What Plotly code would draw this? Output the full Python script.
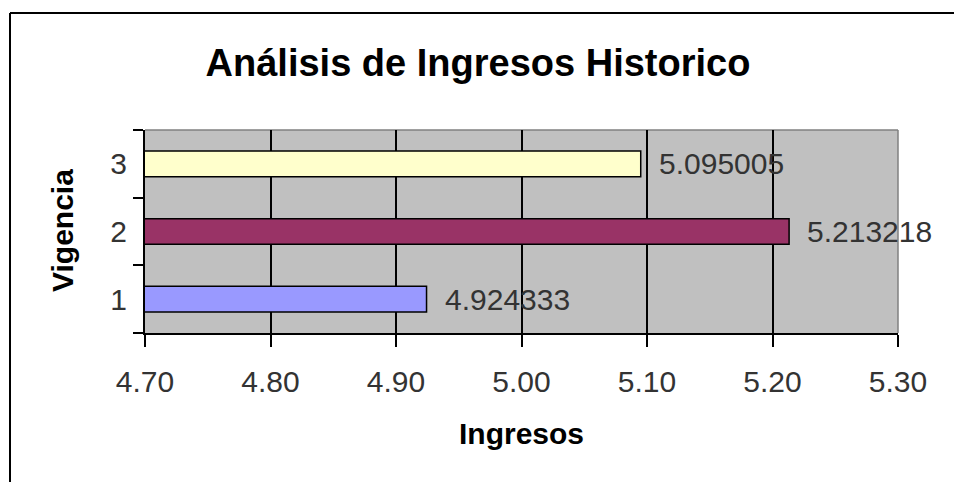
import plotly.graph_objects as go

categories = ["1", "2", "3"]
values = [4.924333, 5.213218, 5.095005]
bar_colors = ["#9999FF", "#993366", "#FFFFCC"]
x_ticks = [4.7, 4.8, 4.9, 5.0, 5.1, 5.2, 5.3]
x_tick_labels = ["4.70", "4.80", "4.90", "5.00", "5.10", "5.20", "5.30"]
title_text = "Análisis de Ingresos Historico"
x_title = "Ingresos"
y_title = "Vigencia"

FONT = "Liberation Sans, Arial, sans-serif"

fig = go.Figure()
fig.add_trace(go.Bar(
    y=categories, x=values, orientation="h",
    marker=dict(color=bar_colors, line=dict(color="#000000", width=1.5)),
    width=0.38, showlegend=False,
))

for i, (c, v) in enumerate(zip(categories, values)):
    fig.add_annotation(x=v, y=i, xref="x", yref="y", text=f"{v:.6f}",
                       showarrow=False, xanchor="left", yanchor="middle",
                       xshift=16, font=dict(family=FONT, size=30, color="#333333"))

L, R, T, B = 145, 56, 130, 149
W, H = 954, 482
pw, ph = W - L - R, H - T - B

fig.add_annotation(x=0.5, y=(-(433 - (H - B)) / ph), xref="paper", yref="paper",
                   text=x_title, showarrow=False, xanchor="center", yanchor="middle",
                   font=dict(family=FONT, size=30, color="#000000", weight="bold"))
fig.add_annotation(x=(62 - L) / pw, y=((H - B) - 231) / ph, xref="paper", yref="paper",
                   text=y_title, showarrow=False, textangle=-90, xanchor="center", yanchor="middle",
                   font=dict(family=FONT, size=30, color="#000000", weight="bold"))

# outer chart border (top and left)
fig.add_shape(type="line", xref="paper", yref="paper",
              x0=(10 - L) / pw, x1=(W + 5 - L) / pw,
              y0=((H - B) - 13) / ph, y1=((H - B) - 13) / ph,
              line=dict(color="#000000", width=2))
fig.add_shape(type="line", xref="paper", yref="paper",
              x0=(10 - L) / pw, x1=(10 - L) / pw,
              y0=((H - B) - 13) / ph, y1=((H - B) - H - 5) / ph,
              line=dict(color="#000000", width=2))
# plot area top/right gray border
fig.add_shape(type="line", xref="paper", yref="paper", x0=0, x1=1, y0=1, y1=1,
              line=dict(color="#808080", width=1.5), layer="below")
fig.add_shape(type="line", xref="paper", yref="paper", x0=1, x1=1, y0=0, y1=1,
              line=dict(color="#808080", width=1.5), layer="below")

fig.update_layout(
    width=W, height=H,
    margin=dict(l=L, r=R, t=T, b=B, pad=0),
    paper_bgcolor="#FFFFFF", plot_bgcolor="#C0C0C0",
    title=dict(text=title_text, x=478 / W, xanchor="center", y=1 - 63 / H, yanchor="middle",
               font=dict(family=FONT, size=38, color="#000000", weight="bold")),
    font=dict(family=FONT, color="#333333"),
)
fig.update_xaxes(
    range=[4.7, 5.3], tickvals=x_ticks, ticktext=x_tick_labels,
    showgrid=True, gridcolor="#000000", gridwidth=1.5,
    showline=True, linecolor="#000000", linewidth=2,
    ticks="outside", ticklen=12, tickwidth=1.5, tickcolor="#000000",
    tickfont=dict(family=FONT, size=30, color="#333333"),
    ticklabelstandoff=9, zeroline=False,
)
fig.update_yaxes(
    type="category", categoryorder="array", categoryarray=categories,
    range=[-0.5, 2.5], tickson="boundaries",
    showgrid=False, showline=True, linecolor="#000000", linewidth=2,
    ticks="outside", ticklen=10, tickwidth=1.5, tickcolor="#000000",
    tickfont=dict(family=FONT, size=30, color="#333333"),
    ticklabelstandoff=10, zeroline=False,
)

fig.write_html("out.html", config={"displayModeBar": False},
               post_script="document.body.style.margin='0';document.body.style.overflow='hidden';")
